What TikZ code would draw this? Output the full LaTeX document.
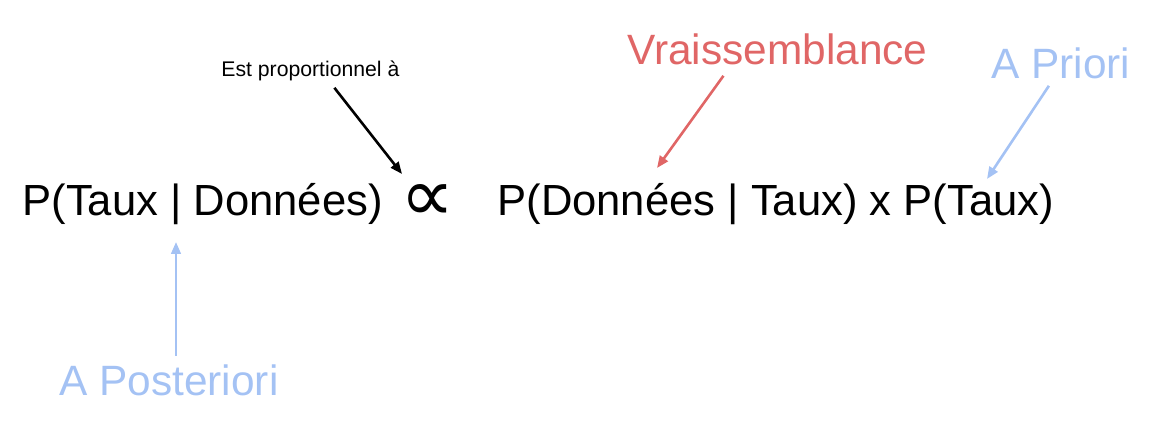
\documentclass[tikz,border=0pt]{standalone}
\usepackage{fontspec}
\setmainfont{Liberation Sans}
\newfontfamily\symfont{DejaVu Sans}
\usetikzlibrary{arrows.meta}
\definecolor{likeRed}{HTML}{E06666}
\definecolor{priorBlue}{HTML}{A4C2F4}
\tikzset{
  big text/.style={inner sep=0pt,anchor=base west,
    font=\fontsize{21.8}{25}\selectfont},
  label text/.style={inner sep=0pt,anchor=base west,
    font=\fontsize{21.2}{25}\selectfont},
  small text/.style={inner sep=0pt,anchor=base west,
    font=\fontsize{10.6}{13}\selectfont},
  note arrow/.style={-{Triangle[length=6pt,width=4.8pt]},line width=1.3pt}
}

\begin{document}
\begin{tikzpicture}[x=0.5pt,y=-0.5pt]
    \useasboundingbox (0,0) rectangle (1165,442);
    % the formula
    \node[big text] (post) at (22,216) {P(Taux | Données)};
    \node[inner sep=0pt,anchor=base,font=\symfont\fontsize{38}{42}\selectfont]
      (prop) at (428,222) {∝};
    \node[big text] (rhs) at (497,216) {P(Données | Taux) x P(Taux)};
    % labels
    \node[small text] (est) at (221,77) {Est proportionnel à};
    \node[label text,text=likeRed] (like) at (627,65) {Vraissemblance};
    \node[label text,text=priorBlue] (prior) at (991,79) {A Priori};
    \node[label text,text=priorBlue] (postlabel) at (59,395) {A Posteriori};
    % arrow tips
    \coordinate (propTip) at (402,174);
    \coordinate (likeTip) at (657,168);
    \coordinate (priorTip) at (987,179);
    \coordinate (postTip) at (176,242);
    \draw[note arrow,black] ([xshift=12pt,yshift=-3pt]est.south) -- (propTip);
    \draw[note arrow,likeRed] ([xshift=-27pt,yshift=-5pt]like.south) -- (likeTip);
    \draw[note arrow,priorBlue] ([xshift=-6pt,yshift=-3pt]prior.south) -- (priorTip);
    \draw[note arrow,priorBlue] ([yshift=4pt]postlabel.north -| postTip) -- (postTip);
\end{tikzpicture}
\end{document}
